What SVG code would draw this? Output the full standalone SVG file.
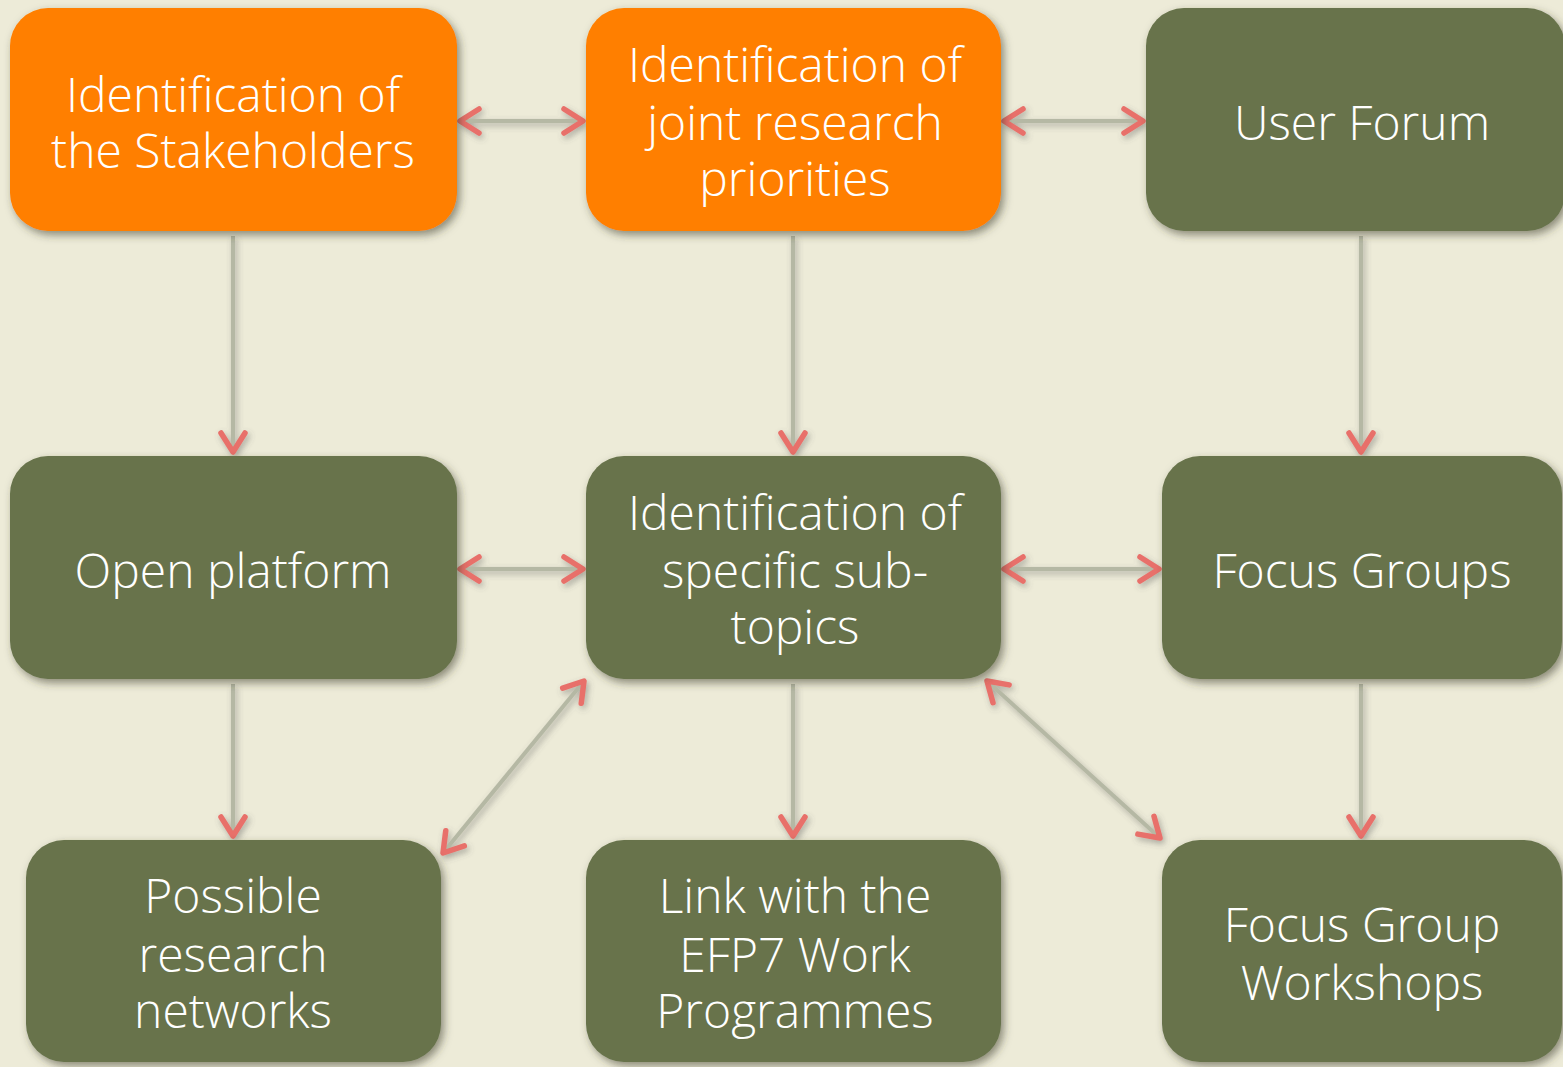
<svg xmlns="http://www.w3.org/2000/svg" width="1563" height="1067" viewBox="0 0 1563 1067">
<style>
.orange{fill:#FF7F00}
.green{fill:#67734B}
.node rect{filter:url(#sh)}
.node text{fill:#FFFFFF;font-family:"Open Sans","Noto Sans",sans-serif;font-size:48px;font-weight:300;text-anchor:middle}
.conn line{stroke:#B5B8A4;stroke-width:4;fill:none;filter:url(#lsh);marker-start:url(#ah);marker-end:url(#ah)}
.conn line.one{marker-start:none}
</style>
<defs>
<filter id="sh" x="-10%" y="-10%" width="125%" height="130%">
<feDropShadow dx="3" dy="4" stdDeviation="4" flood-color="#3a3a2a" flood-opacity="0.55"/>
</filter>
<filter id="lsh" filterUnits="userSpaceOnUse" x="0" y="0" width="1563" height="1067">
<feDropShadow dx="2" dy="3" stdDeviation="3" flood-color="#555" flood-opacity="0.45"/>
</filter>
<marker id="ah" markerUnits="userSpaceOnUse" orient="auto-start-reverse" markerWidth="40" markerHeight="40" refX="0" refY="0" viewBox="-25 -20 30 40" overflow="visible">
<path d="M-19,-12 L0,0 L-19,12" fill="none" stroke="#E8706A" stroke-width="5.5" stroke-linecap="round" stroke-linejoin="round"/>
</marker>
</defs>
<rect width="1563" height="1067" fill="#EDEBD8"/>
<g id="connectors" class="conn">
<line x1="460" y1="121" x2="583" y2="121"/>
<line x1="1004" y1="121" x2="1143" y2="121"/>
<line x1="460" y1="569" x2="583" y2="569"/>
<line x1="1004" y1="569" x2="1159" y2="569"/>
<line class="one" x1="233" y1="236" x2="233" y2="452"/>
<line class="one" x1="793" y1="236" x2="793" y2="452"/>
<line class="one" x1="1361" y1="236" x2="1361" y2="452"/>
<line class="one" x1="233" y1="684" x2="233" y2="836"/>
<line class="one" x1="793" y1="684" x2="793" y2="836"/>
<line class="one" x1="1361" y1="684" x2="1361" y2="836"/>
<line x1="443" y1="853" x2="584" y2="681"/>
<line x1="987" y1="681" x2="1160" y2="838"/>
</g>
<g id="n1" class="node"><rect class="orange" x="10" y="8" width="447" height="223" rx="38"/><text x="233" y="112">Identification of</text><text x="233" y="168">the Stakeholders</text></g>
<g id="n2" class="node"><rect class="orange" x="586" y="8" width="415" height="223" rx="38"/><text x="795" y="82">Identification of</text><text x="795" y="140">joint research</text><text x="795" y="196">priorities</text></g>
<g id="n3" class="node"><rect class="green" x="1146" y="8" width="419" height="223" rx="38"/><text x="1362" y="140">User Forum</text></g>
<g id="n4" class="node"><rect class="green" x="10" y="456" width="447" height="223" rx="38"/><text x="233" y="588">Open platform</text></g>
<g id="n5" class="node"><rect class="green" x="586" y="456" width="415" height="223" rx="38"/><text x="795" y="530">Identification of</text><text x="795" y="588">specific sub-</text><text x="795" y="644">topics</text></g>
<g id="n6" class="node"><rect class="green" x="1162" y="456" width="400" height="223" rx="38"/><text x="1362" y="588">Focus Groups</text></g>
<g id="n7" class="node"><rect class="green" x="26" y="840" width="415" height="222" rx="38"/><text x="233" y="913">Possible</text><text x="233" y="972">research</text><text x="233" y="1028">networks</text></g>
<g id="n8" class="node"><rect class="green" x="586" y="840" width="415" height="222" rx="38"/><text x="795" y="913">Link with the</text><text x="795" y="972">EFP7 Work</text><text x="795" y="1028">Programmes</text></g>
<g id="n9" class="node"><rect class="green" x="1162" y="840" width="400" height="222" rx="38"/><text x="1362" y="942">Focus Group</text><text x="1362" y="1000">Workshops</text></g>
</svg>
